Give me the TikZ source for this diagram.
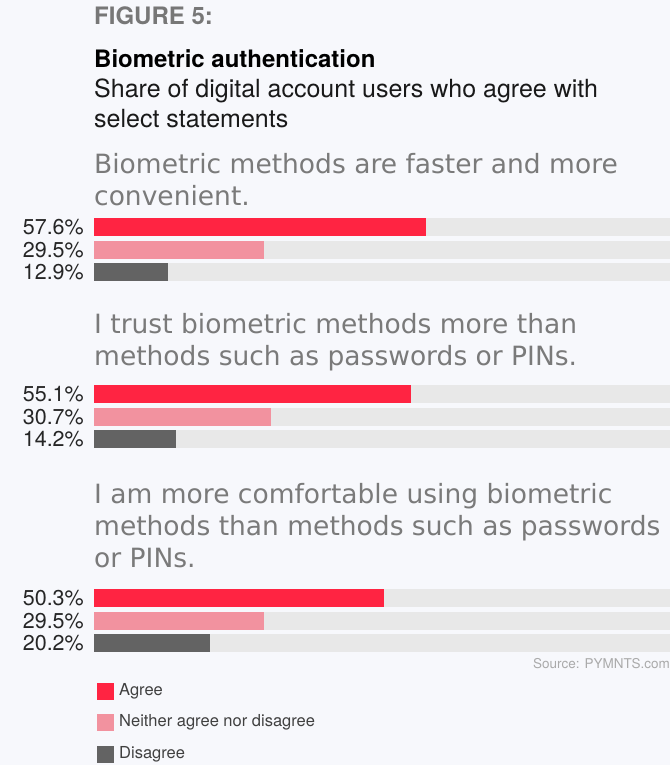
\documentclass[tikz,border=0pt]{standalone}
\usepackage{fontspec}
\setmainfont{TeX Gyre Heros}
\newfontfamily\stmtfont{DejaVu Sans}
\definecolor{paper}{HTML}{F7F8FC}
\definecolor{track}{HTML}{E8E8E8}
\definecolor{agree}{HTML}{FF2442}
\definecolor{neither}{HTML}{F2929F}
\definecolor{disagree}{HTML}{636363}
\definecolor{headgray}{HTML}{777777}
\definecolor{stmtgray}{HTML}{7A7A7A}
\definecolor{srcgray}{HTML}{AAAAAA}
\tikzset{
  txt/.style={inner sep=0pt, anchor=base west},
  head/.style={txt, font=\fontsize{24}{28}\selectfont\bfseries},
  sub/.style={txt, text=black!90, font=\fontsize{25}{30}\selectfont},
  stmt/.style={txt, text=stmtgray, font=\stmtfont\fontsize{26.5}{32}\selectfont},
  pct/.style={inner sep=0pt, anchor=east, text=black!85, font=\fontsize{21.5}{24}\selectfont},
  legtxt/.style={inner sep=0pt, anchor=west, text=black!75, font=\fontsize{16.5}{18}\selectfont},
}
\begin{document}
\begin{tikzpicture}[x=1pt, y=-1pt, line join=round]
\fill[paper] (0,0) rectangle (670,765);
\useasboundingbox (0,0) rectangle (670,765);

% titles
\node[head, text=headgray] (fig) at (94,25) {FIGURE 5:};
\node[head] (title) at (94,68) {Biometric authentication};
\node[sub] (subA) at (94,98) {Share of digital account users who agree with};
\node[sub] (subB) at (94,128) {select statements};

% statements
\node[stmt] (q1a) at (94,173) {Biometric methods are faster and more};
\node[stmt] (q1b) at (94,205) {convenient.};
\node[stmt] (q2a) at (94,333) {I trust biometric methods more than};
\node[stmt] (q2b) at (94,365) {methods such as passwords or PINs.};
\node[stmt] (q3a) at (94,503) {I am more comfortable using biometric};
\node[stmt] (q3b) at (94,535) {methods than methods such as passwords};
\node[stmt] (q3c) at (94,567) {or PINs.};

% bars
\foreach \y/\v/\c in {218/57.6/agree, 240.5/29.5/neither, 263/12.9/disagree,
                      385/55.1/agree, 407.5/30.7/neither, 430/14.2/disagree,
                      589/50.3/agree, 611.5/29.5/neither, 634/20.2/disagree}{
  \fill[track] (94,\y) rectangle (670,\y+18);
  \fill[\c] (94,\y) rectangle (94+5.76*\v,\y+18);
  \node[pct] at (84,\y+9.5) {\v\%};
}

% source
\node[inner sep=0pt, anchor=base east, text=srcgray, font=\fontsize{13.5}{15}\selectfont] (src) at (670,668) {Source: PYMNTS.com};

% legend
\fill[agree] (97,683) rectangle (114,700);
\node[legtxt] (lagree) at (119,691.5) {Agree};
\fill[neither] (97,714) rectangle (114,731);
\node[legtxt] (lneither) at (119,722.5) {Neither agree nor disagree};
\fill[disagree] (97,746) rectangle (114,763);
\node[legtxt] (ldisagree) at (119,754.5) {Disagree};
\end{tikzpicture}
\end{document}
